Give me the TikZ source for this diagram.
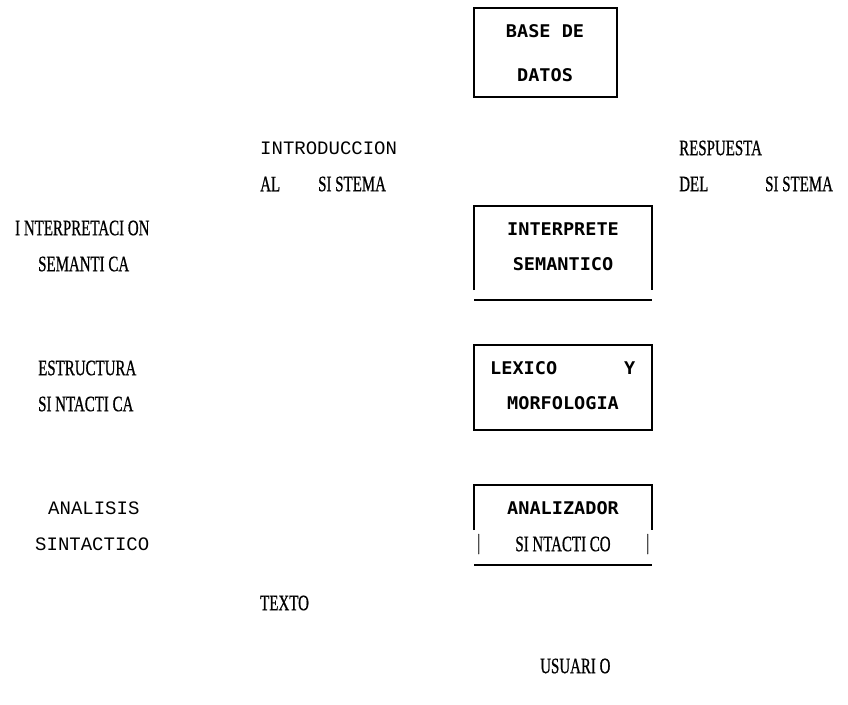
\documentclass[tikz,border=0pt]{standalone}
\usepackage{fontspec}
\newfontfamily\labelserif[FakeStretch=0.68,FakeBold=0.7]{Liberation Serif}
\newfontfamily\labelmono{Liberation Mono}
\newfontfamily\modfont[FakeStretch=1.06]{DejaVu Sans Mono}
\begin{document}
\begin{tikzpicture}[x=1pt,y=-1pt,
  frame/.style={line width=1.3pt},
  rule/.style={line width=2.6pt},
  module/.style={inner sep=0pt, outer sep=0pt},
  modtext/.style={inner sep=0pt, font=\modfont\bfseries\fontsize{17.5}{17.5}\selectfont},
  serif/.style={inner sep=0pt, anchor=west, font=\labelserif\fontsize{22}{22}\selectfont},
  mono/.style={inner sep=0pt, anchor=west, font=\labelmono\fontsize{19}{19}\selectfont}]
\useasboundingbox (0,0) rectangle (848,704);

% module boxes
\node[module, draw, frame, minimum width=143pt, minimum height=89pt] (bd) at (545.5,52.5) {};
\node[module, minimum width=178pt, minimum height=84pt] (is) at (563,248) {};
\node[module, draw, frame, minimum width=178pt, minimum height=85pt] (lm) at (563,387.5) {};
\node[module, minimum width=178pt, minimum height=45pt] (an) at (563,507.5) {};

\draw[frame] (is.south west) -- (is.north west) -- (is.north east) -- (is.south east);
\coordinate (isL) at (474,300);
\coordinate (isR) at (652,300);
\draw[line width=1.6pt] (isL) -- (isR);

\draw[frame] (an.south west) -- (an.north west) -- (an.north east) -- (an.south east);
\coordinate (anL) at (474,565);
\coordinate (anR) at (652,565);
\draw[rule] (anL) -- (anR);

% module labels
\node[modtext] (bd1) at (545,31) {BASE DE};
\node[modtext] (bd2) at (545,75) {DATOS};
\node[modtext] (is1) at (563,229) {INTERPRETE};
\node[modtext] (is2) at (563,264) {SEMANTICO};
\node[modtext, anchor=west] (lm1) at (490,368) {LEXICO\ \ \ \ \ \ Y};
\node[modtext] (lm2) at (563,403) {MORFOLOGIA};
\node[modtext] (an1) at (563,508) {ANALIZADOR};
\node[serif] (barL) at (477,544) {|};
\node[serif, anchor=center] (an2) at (563,544) {SI NTACTI CO};
\node[serif] (barR) at (646,544) {|};

% side labels
\node[mono] (intro1) at (260,148) {INTRODUCCION};
\node[serif] (intro2) at (260,184) {AL};
\node[serif] (intro3) at (318,184) {SI STEMA};
\node[serif] (resp1) at (679,148) {RESPUESTA};
\node[serif] (resp2) at (679,184) {DEL};
\node[serif] (resp3) at (765,184) {SI STEMA};
\node[serif] (sem1) at (15,228) {I NTERPRETACI ON};
\node[serif] (sem2) at (38,264) {SEMANTI CA};
\node[serif] (est1) at (38,368) {ESTRUCTURA};
\node[serif] (est2) at (38,404) {SI NTACTI CA};
\node[mono] (ana1) at (48,508) {ANALISIS};
\node[mono] (ana2) at (35,544) {SINTACTICO};
\node[serif] (txt) at (260,603) {TEXTO};
\node[serif] (usr) at (540,666) {USUARI O};
\end{tikzpicture}
\end{document}
